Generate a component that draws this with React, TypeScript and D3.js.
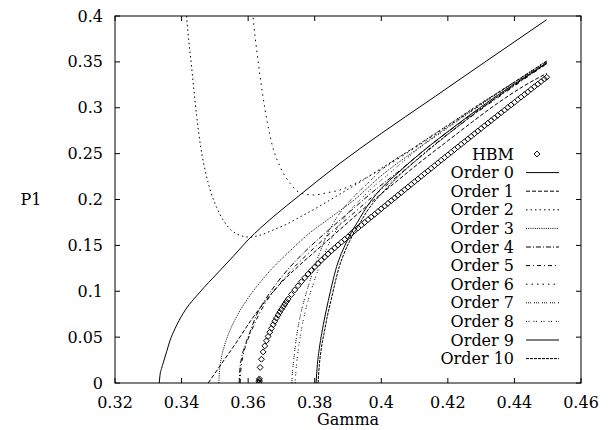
import * as d3 from 'd3';

// axis ticks
const xTicks = [0.32, 0.34, 0.36, 0.38, 0.4, 0.42, 0.44, 0.46];
const yTicks = [0, 0.05, 0.1, 0.15, 0.2, 0.25, 0.3, 0.35, 0.4];

// HBM points (gamma, P1)
const hbmGamma = [
  0.3633, 0.3633, 0.3633, 0.3634, 0.3636, 0.364, 0.3645, 0.365, 0.3655, 0.366, 0.3665, 0.367, 0.3675,
  0.368, 0.3685, 0.369, 0.3695, 0.37, 0.3705, 0.371, 0.3715, 0.372, 0.373, 0.374, 0.375, 0.376, 0.377,
  0.378, 0.379, 0.38, 0.381, 0.382, 0.383, 0.384, 0.385, 0.386, 0.387, 0.388, 0.389, 0.39, 0.391,
  0.392, 0.393, 0.394, 0.395, 0.396, 0.397, 0.398, 0.399, 0.4, 0.401, 0.402, 0.403, 0.404, 0.405,
  0.406, 0.407, 0.408, 0.409, 0.41, 0.411, 0.412, 0.413, 0.414, 0.415, 0.416, 0.417, 0.418, 0.419,
  0.42, 0.421, 0.422, 0.423, 0.424, 0.425, 0.426, 0.427, 0.428, 0.429, 0.43, 0.431, 0.432, 0.433,
  0.434, 0.435, 0.436, 0.437, 0.438, 0.439, 0.44, 0.441, 0.442, 0.443, 0.444, 0.445, 0.446, 0.447,
  0.448, 0.449, 0.4497,
];
const hbmP = [
  0, 0.0015, 0.003, 0.0045, 0.017, 0.0259, 0.0339, 0.0404, 0.046, 0.0508, 0.0554, 0.0596, 0.0635,
  0.0672, 0.0707, 0.074, 0.0772, 0.0802, 0.0832, 0.086, 0.0887, 0.0914, 0.0965, 0.1014, 0.106, 0.1104, 0.1146,
  0.1187, 0.1227, 0.1265, 0.1302, 0.1338, 0.1373, 0.1407, 0.144, 0.1472, 0.1504, 0.1535, 0.1565, 0.1594, 0.163,
  0.166, 0.169, 0.172, 0.175, 0.178, 0.1809, 0.1839, 0.1869, 0.1899, 0.1928, 0.1958, 0.1988, 0.2017, 0.2047,
  0.2076, 0.2106, 0.2135, 0.2165, 0.2194, 0.2223, 0.2253, 0.2282, 0.2311, 0.234, 0.2369, 0.2399, 0.2428, 0.2457,
  0.2486, 0.2515, 0.2544, 0.2573, 0.2602, 0.263, 0.2659, 0.2688, 0.2717, 0.2746, 0.2774, 0.2803, 0.2832, 0.286,
  0.2889, 0.2917, 0.2946, 0.2974, 0.3003, 0.3031, 0.3059, 0.3088, 0.3116, 0.3144, 0.3172, 0.3201, 0.3229, 0.3257,
  0.3285, 0.3313, 0.3333,
];

// perturbation orders, [gamma, P1]
const order0 = [[0.3333, 0], [0.3335, 0.008], [0.334, 0.016], [0.3345, 0.022], [0.3355, 0.034], [0.3365, 0.046], [0.338, 0.059], [0.3405, 0.076], [0.3455, 0.099], [0.3506, 0.119], [0.3555, 0.138], [0.36, 0.156], [0.3675, 0.181], [0.3756, 0.205], [0.3876, 0.2395], [0.4, 0.272], [0.4146, 0.3084], [0.43, 0.347], [0.4497, 0.396]];
const order1 = [[0.348, 0], [0.352, 0.021], [0.3566, 0.045], [0.3608, 0.068], [0.3651, 0.089], [0.3696, 0.108], [0.375, 0.127], [0.38, 0.143], [0.385, 0.159], [0.39, 0.175], [0.3976, 0.199], [0.405, 0.221], [0.4125, 0.243], [0.42, 0.264], [0.4275, 0.285], [0.435, 0.305], [0.4425, 0.323], [0.4497, 0.3375]];
const order2 = [[0.3413, 0.41], [0.3415, 0.4], [0.343, 0.345], [0.3445, 0.292], [0.3458, 0.256], [0.3472, 0.23], [0.3488, 0.208], [0.3506, 0.191], [0.3526, 0.177], [0.3548, 0.167], [0.3575, 0.161], [0.3605, 0.159], [0.3635, 0.161], [0.367, 0.166], [0.3715, 0.173], [0.3756, 0.181], [0.3816, 0.193], [0.3876, 0.206], [0.394, 0.22], [0.4, 0.234], [0.41, 0.257], [0.42, 0.281], [0.43, 0.305], [0.44, 0.328], [0.4497, 0.351]];
const order3 = [[0.3512, 0], [0.3514, 0.013], [0.352, 0.028], [0.353, 0.042], [0.3545, 0.057], [0.3565, 0.072], [0.3596, 0.0905], [0.363, 0.107], [0.367, 0.124], [0.372, 0.142], [0.378, 0.162], [0.385, 0.181], [0.392, 0.2], [0.4, 0.226], [0.41, 0.253], [0.42, 0.279], [0.43, 0.304], [0.44, 0.328], [0.4497, 0.351]];
const order4 = [[0.3573, 0], [0.3575, 0.014], [0.358, 0.027], [0.359, 0.04], [0.3605, 0.055], [0.3625, 0.074], [0.3651, 0.0905], [0.368, 0.106], [0.372, 0.124], [0.377, 0.143], [0.383, 0.163], [0.39, 0.185], [0.397, 0.207], [0.405, 0.23], [0.415, 0.26], [0.425, 0.287], [0.435, 0.312], [0.4497, 0.349]];
const order5 = [[0.3576, 0], [0.3578, 0.014], [0.3585, 0.03], [0.3595, 0.043], [0.361, 0.057], [0.363, 0.073], [0.3655, 0.089], [0.369, 0.106], [0.373, 0.123], [0.378, 0.141], [0.384, 0.161], [0.391, 0.183], [0.398, 0.205], [0.406, 0.229], [0.415, 0.257], [0.425, 0.285], [0.435, 0.311], [0.4497, 0.348]];
const order6 = [[0.3612, 0.41], [0.3617, 0.39], [0.3625, 0.365], [0.3636, 0.334], [0.3651, 0.2975], [0.3671, 0.2612], [0.3696, 0.2358], [0.3726, 0.2176], [0.3756, 0.2073], [0.3796, 0.2049], [0.3836, 0.2073], [0.3876, 0.2104], [0.393, 0.219], [0.4, 0.233], [0.41, 0.256], [0.42, 0.28], [0.43, 0.304], [0.44, 0.328], [0.4497, 0.351]];
const order7 = [[0.3731, 0], [0.3734, 0.015], [0.3739, 0.032], [0.3746, 0.052], [0.3756, 0.072], [0.3768, 0.09], [0.3782, 0.107], [0.3798, 0.125], [0.3816, 0.143], [0.3838, 0.162], [0.3862, 0.178], [0.389, 0.192], [0.392, 0.204], [0.396, 0.218], [0.4, 0.232], [0.41, 0.257], [0.42, 0.281], [0.43, 0.305], [0.44, 0.328], [0.4497, 0.35]];
const order8 = [[0.3741, 0], [0.3744, 0.015], [0.3749, 0.032], [0.3756, 0.05], [0.3766, 0.069], [0.3778, 0.087], [0.3792, 0.104], [0.3808, 0.121], [0.3828, 0.14], [0.385, 0.157], [0.3876, 0.173], [0.3906, 0.188], [0.394, 0.201], [0.398, 0.215], [0.402, 0.227], [0.41, 0.252], [0.42, 0.278], [0.43, 0.303], [0.44, 0.327], [0.4497, 0.35]];
const order9 = [[0.3804, 0], [0.3808, 0.02], [0.3814, 0.038], [0.3821, 0.054], [0.3831, 0.073], [0.3841, 0.09], [0.3853, 0.109], [0.3866, 0.127], [0.388, 0.141], [0.3896, 0.154], [0.3911, 0.165], [0.3928, 0.175], [0.3946, 0.186], [0.3966, 0.197], [0.4, 0.212], [0.405, 0.229], [0.41, 0.245], [0.42, 0.274], [0.43, 0.301], [0.44, 0.326], [0.4497, 0.349]];
const order10 = [[0.381, 0], [0.3814, 0.02], [0.382, 0.038], [0.3828, 0.054], [0.3838, 0.073], [0.3849, 0.09], [0.3861, 0.109], [0.3874, 0.127], [0.3888, 0.141], [0.3904, 0.154], [0.392, 0.165], [0.3937, 0.175], [0.3955, 0.186], [0.3975, 0.196], [0.4, 0.206], [0.405, 0.225], [0.41, 0.241], [0.42, 0.271], [0.43, 0.299], [0.44, 0.325], [0.4497, 0.348]];

const orderNames = ['Order 0', 'Order 1', 'Order 2', 'Order 3', 'Order 4', 'Order 5', 'Order 6', 'Order 7', 'Order 8', 'Order 9', 'Order 10'];
const orderData = [order0, order1, order2, order3, order4, order5, order6, order7, order8, order9, order10];
// gnuplot-ish dash patterns
const orderDash = [null, '4,2', '1.5,3', '1,1.2', '5,2,1,2', '4,3,1,3', '1.5,4', '1,1,1,1,1,3', '1,1.5,1,4', null, '3,1'];

const width = 608;
const height = 430;
const margin = { top: 16, right: 27, bottom: 47, left: 115 };
const FONT = '"DejaVu Serif", "Liberation Serif", serif';

export default function App() {
  const x = d3.scaleLinear().domain([0.32, 0.46]).range([margin.left, width - margin.right]);
  const y = d3.scaleLinear().domain([0, 0.4]).range([height - margin.bottom, margin.top]);

  const line = d3.line<number[]>()
    .x(d => x(d[0]))
    .y(d => y(d[1]))
    .curve(d3.curveMonotoneX);

  const diamond = d3.symbol().type(d3.symbolDiamond2).size(22)();
  const tick = 5;
  const x0 = x.range()[0], x1 = x.range()[1];
  const y0 = y.range()[0], y1 = y.range()[1];

  const legendRight = 514;
  const legendTop = 154;
  const legendStep = 18.6;

  return (
    <svg width={width} height={height} style={{ position: 'absolute', left: 0, top: 0, background: '#fff' }}
      fontFamily={FONT} fontSize={16}>
      <defs>
        <clipPath id="plot">
          <rect x={x0} y={y1} width={x1 - x0} height={y0 - y1} />
        </clipPath>
      </defs>

      {/* ticks, mirrored on all sides */}
      {xTicks.map(t => (
        <g key={'x' + t}>
          <line x1={x(t)} x2={x(t)} y1={y0} y2={y0 - tick} stroke="#000" />
          <line x1={x(t)} x2={x(t)} y1={y1} y2={y1 + tick} stroke="#000" />
          <text x={x(t)} y={408} textAnchor="middle">{String(t)}</text>
        </g>
      ))}
      {yTicks.map(t => (
        <g key={'y' + t}>
          <line x1={x0} x2={x0 + tick} y1={y(t)} y2={y(t)} stroke="#000" />
          <line x1={x1} x2={x1 - tick} y1={y(t)} y2={y(t)} stroke="#000" />
          <text x={103} y={y(t)} dy="0.35em" textAnchor="end">{String(t)}</text>
        </g>
      ))}

      <text x={(x0 + x1) / 2} y={425} textAnchor="middle">Gamma</text>
      <text x={31} y={199} dy="0.35em" textAnchor="middle">P1</text>

      <g clipPath="url(#plot)">
        {orderData.map((d, i) => (
          <path key={orderNames[i]} d={line(d) || ''} fill="none" stroke="#000" strokeWidth={1}
            strokeDasharray={orderDash[i] || undefined} />
        ))}
        {hbmGamma.map((g, i) => (
          <path key={'h' + i} d={diamond || ''} transform={`translate(${x(g)},${y(hbmP[i])})`}
            fill="none" stroke="#000" strokeWidth={1} />
        ))}
      </g>

      {/* legend */}
      <text x={legendRight} y={legendTop} dy="0.35em" textAnchor="end">HBM</text>
      <path d={diamond || ''} transform={`translate(537,${legendTop})`} fill="none" stroke="#000" strokeWidth={1} />
      {orderNames.map((n, i) => {
        const ly = legendTop + (i + 1) * legendStep;
        return (
          <g key={'l' + n}>
            <text x={legendRight} y={ly} dy="0.35em" textAnchor="end">{n}</text>
            <line x1={526} x2={559} y1={ly} y2={ly} stroke="#000" strokeWidth={1}
              strokeDasharray={orderDash[i] || undefined} />
          </g>
        );
      })}

      <rect x={x0} y={y1} width={x1 - x0} height={y0 - y1} fill="none" stroke="#000" strokeWidth={1} />
    </svg>
  );
}
